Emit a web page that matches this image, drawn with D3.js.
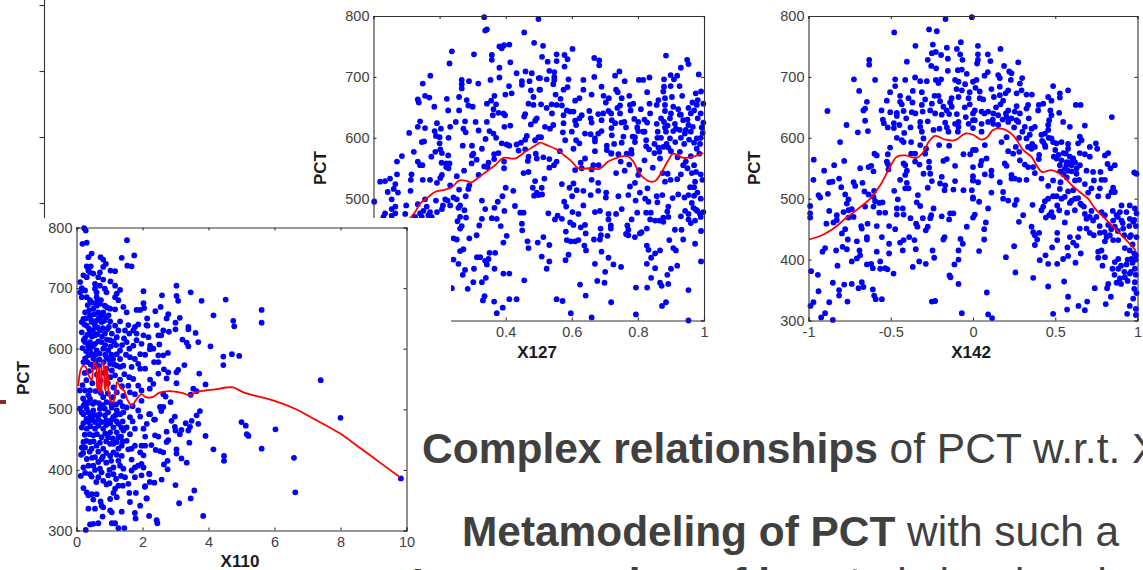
<!DOCTYPE html>
<html lang="en">
<head>
  <meta charset="UTF-8">
  <title>PCT scatter panels</title>
  <script src="https://d3js.org/d3.v7.min.js"></script>
  <style>
    html, body { margin: 0; padding: 0; background: #fff; overflow: hidden; }
    svg { display: block; }
    text { font-family: "Liberation Sans", Arial, sans-serif; }
    .tick text { fill: #404040; font-size: 14.5px; }
    .axis-title { fill: #1a1a1a; font-size: 17px; font-weight: bold; }
    .slide-text { fill: #404040; }
  </style>
</head>
<body>
  <div id="chart"></div>
  <script type="text/javascript">

  var pctTicks = [300, 400, 500, 600, 700, 800];
  var x110Ticks = [0, 2, 4, 6, 8, 10];
  var x127Ticks = [0, 0.2, 0.4, 0.6, 0.8, 1];
  var x142Ticks = [-1, -0.5, 0, 0.5, 1];
  var strayTicks = [0, 1, 2, 3];

  // [X110, PCT]
  var pointsX110 = [
    [3.03,704],[3.46,693],[2.59,688],[3.03,687],[3.08,679],[3.79,679],[4.52,681],[2.55,669],[2.39,662],[5.61,664],[5.61,643],[4.15,655],
    [2.78,657],[2.73,650],[3.13,651],[4.75,646],[4.78,637],[3.0,643],[3.39,636],[3.39,632],[2.43,639],[2.12,639],[2.63,630],[2.57,622],
    [2.48,622],[3.0,632],[2.8,628],[3.61,626],[3.21,615],[3.34,610],[3.39,604],[3.69,611],[4.06,604],[2.51,607],[2.33,600],[2.22,599],
    [2.77,593],[2.63,589],[2.48,589],[4.71,591],[4.93,588],[4.45,587],[4.45,573],[3.27,573],[2.35,578],[2.48,578],[2.65,566],[2.78,561],
    [3.03,561],[3.08,565],[3.72,559],[2.48,559],[2.73,551],[7.4,548],[3.03,543],[2.33,542],[2.22,534],[3.91,541],[3.54,534],[3.64,530],
    [3.46,524],[2.63,525],[2.7,521],[2.85,512],[2.53,504],[2.63,504],[2.57,497],[3.74,497],[3.64,490],[3.49,481],[8.0,486],[2.2,492],
    [2.98,488],[2.88,481],[2.35,483],[3.31,477],[3.69,476],[3.44,471],[3.39,465],[5.0,479],[5.13,473],[2.98,471],[3.0,465],[3.13,459],
    [3.18,466],[6.03,467],[2.73,463],[2.38,457],[2.48,455],[3.91,456],[5.16,459],[5.21,456],[2.78,449],[2.73,446],[3.42,445],[2.27,441],
    [5.61,435],[4.15,434],[2.4,433],[2.53,431],[2.63,429],[3.03,434],[3.03,427],[4.47,423],[4.47,415],[6.59,420],[3.18,419],[3.34,412],
    [2.76,415],[2.65,409],[2.76,401],[9.83,386],[2.2,394],[2.58,384],[2.22,380],[2.36,379],[3.0,375],[3.57,366],[2.07,372],[3.46,353],
    [2.12,353],[6.63,363],[3.11,345],[3.84,324],[2.2,324],[2.43,317],[2.45,312],
    [0.23,799],[0.28,795],[0.18,773],[0.31,775],[1.53,779],[0.46,757],[0.36,751],[1.37,750],[1.75,754],[0.73,751],[0.81,747],[0.89,740],
    [1.54,737],[1.67,736],[0.31,736],[0.43,736],[0.81,735],[0.36,729],[0.51,724],[0.41,726],[0.71,726],[1.03,729],[1.17,728],[0.21,721],
    [0.31,718],[0.66,718],[0.11,710],[0.81,714],[1.03,711],[0.56,707],[0.71,704],[1.17,704],[0.16,700],[0.26,696],[0.11,693],[0.56,699],
    [0.61,693],[0.86,699],[0.91,693],[1.32,697],[1.22,691],[0.16,685],[0.31,685],[0.41,680],[0.61,685],[1.17,685],[1.27,680],[2.03,695],
    [2.03,675],[2.05,667],[1.93,664],[1.82,664],[1.42,669],[1.52,660],[0.71,674],[0.86,671],[0.61,671],[0.51,666],[1.02,666],[1.17,665],
    [0.26,660],[0.41,655],[0.21,649],[0.66,660],[0.81,660],[0.91,652],[0.71,652],[1.57,639],[2.14,650],[0.16,644],[0.31,638],[0.46,644],
    [0.56,638],[0.76,644],[1.02,645],[1.17,638],[1.32,645],[1.87,640],[2.15,638],[1.77,636],[1.72,630],[1.82,625],[1.47,630],[1.27,630],
    [0.16,627],[0.26,618],[0.41,627],[0.56,622],[0.71,630],[0.86,625],[1.07,625],[1.22,619],[1.02,614],[2.18,619],[2.03,622],[1.52,611],
    [1.82,614],[1.72,605],[1.97,608],[0.26,611],[0.41,611],[0.56,608],[0.76,611],[0.18,601],[0.41,600],[0.61,597],[0.81,600],[0.96,597],
    [1.32,597],[1.22,591],[2.23,605],[1.62,586],[1.77,583],[1.93,591],[2.08,590],[0.36,589],[0.51,584],[0.26,584],[0.91,586],[1.11,583],
    [1.32,583],[1.87,575],[1.93,567],[1.67,570],[1.02,575],[1.22,572],[1.42,572],[2.08,567],[0.21,578],[0.91,567],[1.07,564],
    [0.1,531],[1.32,549],[1.72,550],[2.23,549],[1.57,539],[1.87,539],[1.97,531],[0.26,531],[0.41,531],[1.12,536],[1.22,528],[1.77,525],
    [1.97,514],[0.41,517],[0.26,512],[0.56,512],[0.81,520],[0.91,512],[1.32,512],[1.52,503],[0.1,501],[0.21,506],[0.31,501],[1.87,498],
    [2.23,492],[0.51,498],[0.71,501],[0.86,501],[1.07,503],[1.22,498],[1.62,487],[1.93,488],[2.38,483],[0.21,492],[0.41,487],[0.61,490],
    [0.86,490],[1.11,487],[1.32,492],[0.21,477],[0.36,479],[0.56,479],[0.76,479],[1.02,477],[1.27,476],[2.13,476],[2.03,468],[1.77,468],
    [1.52,470],[1.42,465],[0.31,468],[0.56,468],[0.81,468],[1.02,462],[1.22,462],[1.62,459],[2.08,455],[0.51,457],[0.76,454],[0.96,454],
    [1.27,454],[1.52,448],[0.21,446],[0.16,437],[0.41,446],[0.61,440],[1.02,443],[1.22,446],[1.77,440],[1.97,440],[2.08,440],[0.81,435],
    [0.46,435],[0.26,437],[1.37,440],[1.27,435],[1.57,434],[1.12,429],[1.67,435],[0.14,425],[0.56,421],[0.31,418],[1.37,423],[2.03,424],
    [1.93,429],[0.76,418],[0.66,413],[1.67,417],[0.21,404],[0.36,407],[0.51,407],[1.27,415],[1.12,404],[1.97,410],[1.87,407],[2.03,404],
    [0.71,402],[0.76,396],[1.32,407],[1.42,402],[1.77,404],[1.67,399],[0.41,393],[0.46,389],[0.13,390],[0.96,391],[1.12,393],[1.97,391],
    [2.21,393],[1.77,388],[0.66,388],[0.81,382],[0.91,376],[1.47,388],[1.57,377],[2.08,373],[0.21,370],[0.31,363],[0.36,358],[1.27,374],
    [1.17,369],[1.12,362],[0.46,360],[0.61,360],[1.6,362],[1.8,362],[2.13,353],[1.02,352],[1.22,355],[0.51,351],[0.73,348],[1.62,347],
    [0.81,338],[0.76,341],[0.36,336],[0.56,336],[1.02,333],[1.07,330],[1.37,331],[1.93,341],[1.77,329],[1.79,320],[0.79,323],[0.66,312],
    [0.51,311],[0.41,310],[1.07,312],[1.17,312],[1.27,304],[1.45,304],[0.28,301],
    // the solid blob at low X110
    [.34,672],[.47,676],[.63,678],[.74,680],[.93,668],[.38,663],[.54,657],[.67,650],[.79,655],[.97,655],[.28,650],[.44,648],
    [.6,646],[.84,646],[.98,636],[.24,640],[.38,633],[.5,630],[.64,635],[.8,634],[.93,632],[.33,623],[.47,620],[.62,624],
    [.77,620],[.92,615],[1.13,612],[.22,614],[.35,605],[.5,604],[.66,612],[.87,606],[1.04,604],[1.2,606],[.29,596],[.45,592],
    [.58,590],[.7,592],[.87,590],[1.06,590],[1.38,606],[.33,578],[.43,574],[.58,580],[.7,582],[.82,578],[1.14,574],[1.32,570],
    [.52,570],[.66,572],[.98,582],[1.5,590],[1.6,600],[1.44,617],[1.6,625],
    [.25,560],[.38,563],[.62,557],[.85,560],[1.02,553],[1.17,556],[1.45,558],[1.6,553],[.3,548],[.48,543],[.73,547],[.95,543],
    [1.38,538],[.18,540],[.36,523],[.58,530],[.74,527],[.95,526],[1.1,520],[1.42,522],[1.62,528],[.2,518],[.5,509],[.68,510],
    [.8,507],[1.04,510],[1.2,508],[1.4,505],[1.7,505],[.34,510],
    [.16,495],[.36,495],[.49,490],[.7,492],[.96,495],[1.18,490],[1.42,495],[.3,484],[.5,482],[.67,483],[.9,482],[1.05,482],
    [1.22,480],[1.4,480],[1.7,480],[.16,470],[.42,472],[.66,473],[.9,474],[1.12,470],[1.36,470],[.25,458],[.4,459],[.62,459],
    [.87,460],[1.1,452],[1.35,455],[.3,448],[.52,447],[.71,445],[.9,447],[1.12,443],[1.4,447],[.2,428],[.4,430],[.66,430],
    [.9,428],[1.02,423],[1.22,425],[.47,420],[.8,422],[1.05,415],[.9,412],
    [.26,395],[.56,400],[1,400],[1.2,385],[1.35,390],[.6,380],[1,378],[1.4,374]
  ];

  // [X127, PCT]
  var pointsX127 = [
    [.335,798],[.499,795],[.338,776],[.343,778],[.456,773],[.486,756],[.411,753],[.395,752],[.388,747],[.381,750],[.237,742],[.304,737],
    [.358,736],[.358,728],[.414,724],[.230,722],[.381,715],[.433,706],[.460,709],[.479,706],[.500,698],[.172,702],[.381,699],[.354,695],
    [.267,695],[.267,688],[.267,681],[.289,693],[.317,689],[.149,689],[.410,685],[.449,693],[.449,687],[.472,693],[.476,678],[.502,679],
    [.399,671],[.418,673],[.366,669],[.259,667],[.156,669],[.169,666],[.134,663],[.137,658],[.222,664],[.282,662],[.484,667],[.356,661],
    [.343,656],[.371,655],[.469,656],[.484,654],[.184,651],[.287,653],[.300,651],[.226,645],[.259,645],[.363,647],[.361,637],[.378,641],
    [.393,640],[.398,637],[.456,635],[.459,639],[.494,632],[.489,628],[.141,627],[.192,624],[.249,626],[.277,627],[.309,626],[.343,626],
    [.134,618],[.156,616],[.232,618],[.204,615],[.272,615],[.279,609],[.318,612],[.396,618],[.414,620],[.476,622],[.351,611],[.363,607],
    [.371,600],[.108,608],[.185,611],[.189,603],[.200,601],[.227,600],[.339,598],[.464,603],[.459,597],[.146,593],[.153,594],[.200,591],
    [.270,587],[.298,587],[.388,591],[.403,589],[.411,587],[.328,582],[.433,589],[.446,592],[.489,596],[.499,601],[.122,577],[.202,581],
    [.187,577],[.207,575],[.175,569],[.226,571],[.302,574],[.298,571],[.312,564],[.378,575],[.365,573],[.365,565],[.439,579],[.459,581],
    [.086,570],[.071,561],[.469,569],[.467,562],[.491,574],[.494,566],[.134,561],[.141,555],[.148,555],[.206,559],[.220,558],[.230,558],
    [.220,552],[.227,550],[.297,558],[.348,559],[.335,553],[.345,552],[.395,561],[.395,550],[.274,546],[.454,542],[.469,544],[.207,539],
    [.202,534],[.252,537],[.318,539],[.071,540],[.115,540],[.113,531],[.149,531],[.171,531],[.020,528],[.035,529],[.050,533],[.066,524],
    [.192,526],[.489,529],[.232,522],[.290,522],[.287,516],[.259,515],[.112,513],[.061,516],[.043,511],[.074,510],[.400,518],[.423,513],
    [.482,518],[.494,510],[.486,505],[.499,506],[.390,504],[.279,504],[.055,499],[.002,495],[.242,502],[.252,499],[.217,499],[.224,497],
    [.328,497],[.189,497],[.156,499],[.376,495],[.099,489],[.134,491],[.161,487],[.066,487],[.055,483],[.232,489],[.262,489],[.257,485],
    [.428,488],[.210,489],[.207,483],[.338,483],[.366,485],[.396,480],[.275,481],[.454,477],[.444,477],[.035,476],[.066,476],[.096,475],
    [.151,480],[.171,478],[.192,478],[.141,476],[.166,473],[.030,470],[.055,472],[.126,470],[.146,470],[.176,470],[.262,470],[.280,469],
    [.254,463],[.328,467],[.320,456],[.358,468],[.373,467],[.385,455],[.449,459],[.450,448],[.267,455],[.262,451],[.403,439],[.242,435],
    [.252,433],[.312,440],[.290,435],[.393,428],[.466,430],[.497,428],[.469,419],[.262,414],[.272,417],[.351,411],[.368,411],[.313,404],
    [.323,404],[.348,401],[.338,398],[.343,392],[.242,400],[.257,393],[.366,385],[.304,385],[.277,383],[.270,375],[.393,377],[.411,377],
    [.340,370],[.328,363],[.456,366],[.302,363],[.237,353],[.285,352],[.336,340],[.331,333],[.365,331],[.411,335],[.433,335],[.391,321],
    [.373,312],
    [.602,746],[.513,751],[.510,733],[.554,737],[.578,736],[.587,729],[.527,725],[.554,726],[.578,717],[.668,731],[.683,727],[.683,719],
    [.885,735],[.949,728],[.953,721],[.930,715],[.532,710],[.547,708],[.547,700],[.547,695],[.668,700],[.731,702],[.744,709],[.504,698],
    [.524,696],[.590,696],[.635,695],[.760,693],[.803,695],[.816,695],[.835,699],[.879,696],[.879,684],[.899,703],[.909,696],[.919,702],
    [.984,704],[.544,688],[.587,683],[.575,679],[.635,679],[.690,684],[.899,685],[.926,685],[.504,679],[.828,675],[.734,679],[.739,675],
    [.877,676],[.975,673],[.991,676],[.660,671],[.696,669],[.712,665],[.703,658],[.551,671],[.566,664],[.610,661],[.623,665],[.774,669],
    [.751,665],[.862,662],[.903,667],[.934,669],[.981,662],[.965,658],[.882,665],[.882,654],[.507,655],[.524,649],[.539,655],[.554,654],
    [.570,653],[.776,654],[.786,656],[.746,653],[.738,649],[.835,656],[.857,654],[.907,651],[.922,647],[.927,638],[.953,649],[.978,654],
    [.998,656],[.585,645],[.605,643],[.595,643],[.575,637],[.653,644],[.680,639],[.695,640],[.711,644],[.719,640],[.809,647],[.778,645],
    [.882,644],[.630,637],[.623,632],[.657,632],[.837,640],[.690,629],[.721,629],[.731,624],[.746,640],[.759,626],[.789,631],[.801,626],
    [.828,625],[.857,623],[.879,626],[.897,632],[.912,623],[.937,629],[.981,632],[.998,625],[.613,621],[.575,624],[.519,618],[.534,615],
    [.544,621],[.764,617],[.798,617],[.816,610],[.882,617],[.885,610],[.907,611],[.927,613],[.953,621],[.966,618],[.945,613],[.942,607],
    [.993,617],[.996,608],[.573,609],[.640,607],[.657,606],[.680,607],[.670,599],[.690,611],[.721,604],[.801,611],[.791,601],[.859,600],
    [.507,601],[.580,596],[.613,596],[.623,591],[.756,602],[.751,592],[.728,590],[.670,594],[.784,602],[.791,593],[.825,596],[.897,599],
    [.887,590],[.913,593],[.877,585],[.978,599],[.970,592],[.988,590],[.978,582],[.706,587],[.605,582],[.825,586],[.834,581],[.862,584],
    [.865,577],[.892,584],[.927,577],[.564,578],[.670,578],[.706,580],[.719,574],[.741,573],[.766,574],[.986,574],[.781,574],[.514,568],
    [.532,565],[.640,566],[.627,559],[.820,563],[.867,566],[.554,561],[.546,555],[.532,551],[.748,561],[.774,556],[.665,555],[.681,555],
    [.945,561],[.937,555],[.970,555],[.845,551],[.875,542],[.890,541],[.610,547],[.630,550],[.660,548],[.963,542],[.976,544],[.734,542],
    [.760,546],[.990,540],[.995,531],[.804,547],[.801,539],[.517,533],[.660,531],[.882,528],[.899,531],[.919,532],[.973,528],[.970,519],
    [.958,519],[.570,524],[.605,525],[.680,526],[.791,526],[.776,520],[.509,518],[.593,518],[.615,514],[.635,513],[.829,517],[.680,513],
    [.704,510],[.806,510],[.922,507],[.905,501],[.510,507],[.601,504],[.657,506],[.741,504],[.771,506],[.703,502],[.857,504],[.874,506],
    [.953,506],[.941,502],[.793,497],[.822,500],[.832,495],[.859,494],[.577,495],[.583,487],[.635,489],[.892,487],[.889,479],[.963,493],
    [.968,485],[.976,482],[.751,483],[.602,478],[.620,475],[.670,478],[.685,480],[.529,476],[.734,475],[.711,475],[.798,477],[.825,477],
    [.839,477],[.943,480],[.953,475],[.988,475],[.998,478],[.557,472],[.549,466],[.570,467],[.711,466],[.877,469],[.892,470],[.930,471],
    [.953,466],[.973,464],[.595,461],[.605,457],[.640,457],[.627,453],[.781,466],[.768,456],[.837,466],[.852,464],[.865,464],[.877,462],
    [.687,451],[.718,456],[.718,451],[.771,449],[.764,442],[.912,449],[.932,449],[.991,447],[.582,446],[.827,451],[.811,445],[.806,443],
    [.642,443],[.708,439],[.688,440],[.685,433],[.667,433],[.771,440],[.791,437],[.514,437],[.937,433],[.895,432],[.585,432],[.597,430],
    [.620,432],[.610,430],[.973,426],[.532,424],[.638,423],[.643,415],[.827,423],[.832,416],[.907,419],[.915,415],[.690,413],[.867,415],
    [.852,410],[.590,408],[.509,405],[.711,403],[.840,403],[.581,399],[.532,397],[.670,393],[.726,392],[.749,388],[.827,393],[.991,397],
    [.524,385],[.852,386],[.919,390],[.900,385],[.701,380],[.889,375],[.840,370],[.677,365],[.699,362],[.867,362],[.872,357],[.892,360],
    [.625,359],[.794,354],[.828,354],[.953,350],[.642,341],[.554,335],[.572,332],[.719,330],[.885,330],[.873,324],[.597,312],[.660,305],
    [.794,310],[.953,300],
    // denser right side
    [.9,640],[.93,638],[.95,630],[.96,640],[.97,645],[.99,640],[.87,632],[.89,620],[.915,615],[.93,600],[.94,590],[.955,597],
    [.86,610],[.85,590],[.87,600],[.9,578],[.92,568],[.96,570],[.99,600],[.96,610],[.82,630],[.82,610],[.72,616],[.75,625],
    [.66,625],[.61,628],[.54,640],[.6,610],[.78,580],[.85,575],[.98,510],[.99,500],[.97,505],[.93,540],[.95,550],[.98,480],
    [.99,470],[.96,460],[.72,575]
  ];

  // [X142, PCT]
  var pointsX142 = [
    [-.167,795],[-.007,798],[-.479,773],[-.267,778],[-.22,775],[-.35,751],[-.244,753],[-.159,748],[-.074,757],[-.098,746],[-.25,739],[-.226,741],
    [-.194,736],[-.275,728],[-.153,730],[-.078,737],[-.064,728],[-.631,728],[-.631,720],[-.402,725],[-.254,718],[-.224,714],[-.153,710],[-.092,711],
    [-.068,712],[-.038,705],[-.724,696],[-.595,695],[-.473,696],[-.412,695],[-.352,699],[-.321,693],[-.281,693],[-.226,695],[-.194,696],[-.21,690],
    [-.109,695],[-.088,692],[-.048,688],[0,692],[-.473,685],[-.692,677],[-.504,675],[-.366,677],[-.311,675],[-.234,669],[-.21,669],[-.443,669],
    [-.392,665],[-.368,658],[-.524,661],[-.645,659],[-.291,663],[-.311,654],[-.25,656],[-.443,659],[-.433,655],[-.088,667],[-.068,678],[-.027,665],
    [-.139,658],[-.129,651],[-.18,651],[-.656,648],[-.666,645],[-.885,644],[-.556,645],[-.503,642],[-.463,641],[-.422,644],[-.372,642],[-.306,643],
    [-.19,638],[-.145,639],[-.098,639],[-.044,634],[0,640],[-.548,630],[-.542,624],[-.656,628],[-.463,636],[-.406,632],[-.321,626],[-.275,627],
    [-.169,625],[-.109,623],[-.088,626],[-.027,623],[0,629],[-.769,621],[-.518,617],[-.481,624],[-.481,616],[-.447,621],[-.38,617],[-.321,618],
    [-.311,610],[-.24,613],[-.204,615],[-.159,617],[-.149,610],[-.088,618],[-.092,610],[-.7,609],[-.639,611],[-.418,608],[-.463,600],[-.433,596],
    [-.422,593],[-.301,599],[-.808,593],[-.376,593],[-.321,588],[-.206,588],[-.145,587],[-.504,584],[-.518,573],[-.599,574],[-.585,571],[-.285,582],
    [-.291,574],[-.058,573],[-.017,573],[-.376,574],[-.352,574],[0,580],[-.968,564],[-.783,562],[-.524,561],[-.518,557],[-.422,558],[-.412,555],
    [-.18,562],[-.159,565],[-.109,554],[-.352,561],[-.325,556],[-.267,561],[-.267,551],[-.844,555],[-.686,550],[-.635,552],[-.619,554],[-.605,545],
    [-.905,546],[-.514,548],[-.402,546],[-.412,539],[-.301,541],[-.26,541],[-.814,533],[-.443,531],[-.97,531],[-.25,529],[-.19,536],[-.2,525],
    [-.169,522],[-.109,529],[0,537],[0,530],[-.874,527],[-.854,528],[-.726,527],[-.672,526],[-.801,519],[-.716,521],[-.402,526],[-.392,517],
    [-.412,517],[-.275,518],[-.173,514],[-.119,515],[-.058,514],[-.007,514],[-.479,513],[-.601,513],[-.66,512],[-.939,506],[-.929,502],[-.882,508],
    [-.777,507],[-.757,499],[-.635,507],[-.605,503],[-.595,496],[-.335,506],[0,500],[-.457,499],[-.767,492],[-.55,494],[-.99,488],[-.342,494],
    [-.321,488],[-.656,487],[-.605,487],[-.57,493],[-.463,484],[-.427,484],[-.874,480],[-.57,477],[-.534,477],[-.463,474],[-.422,474],[-.99,476],
    [-.99,469],[-.828,473],[-.787,478],[-.757,481],[-.737,483],[-.24,484],[-.254,473],[-.26,468],[-.139,476],[-.119,476],[-.145,466],[-.19,471],
    [-.726,470],[-.757,469],[-.828,465],[-.848,461],[-.891,459],[-.38,468],[-.305,468],[-.346,459],[-.338,454],[-.275,454],[-.287,448],[-.68,455],
    [-.676,451],[-.641,459],[-.585,455],[-.51,455],[-.473,450],[-.038,454],[-.777,450],[-.797,443],[-.761,433],[-.706,430],[-.645,437],[-.645,433],
    [-.554,437],[-.388,437],[-.356,432],[-.422,432],[-.443,428],[-.173,437],[-.18,433],[-.076,434],[-.062,426],[-.51,426],[-.793,421],[-.767,417],
    [-.899,419],[-.915,413],[-.832,415],[-.69,415],[-.585,413],[-.427,415],[-.348,417],[-.51,410],[-.246,415],[-.088,415],[-.686,407],[-.706,402],
    [-.236,403],[-.737,397],[-.564,397],[-.327,397],[-.088,400],[-.287,393],[-.113,392],[-.645,392],[-.619,393],[-.609,386],[-.824,390],[-.366,388],
    [-.564,385],[-.534,386],[-.52,384],[-.984,381],[-.943,375],[-.483,377],[-.143,374],[-.137,371],[-.088,360],[-.852,362],[-.783,359],[-.737,360],
    [-.676,363],[-.696,353],[-.666,355],[-.609,351],[-.814,350],[-.939,348],[-.814,341],[-.601,341],[-.591,335],[-.554,335],[-.763,331],[-.874,330],
    [-.25,331],[-.23,332],[-.97,330],[-.988,324],[-.899,312],[-.923,305],[-.852,301],[-.068,312],
    [.03,751],[.167,746],[.03,737],[.09,737],[.025,722],[.03,728],[.106,726],[.189,718],[.275,724],[.22,709],[.234,706],[.09,708],
    [.07,702],[.153,703],[.163,698],[.299,698],[.021,695],[.23,695],[.285,689],[.487,685],[.578,678],[.112,680],[.163,684],[.214,678],
    [.015,682],[.041,676],[.295,678],[.325,671],[.358,671],[.265,673],[.528,673],[.528,666],[.127,667],[.163,670],[.198,673],[.041,665],
    [.062,663],[.457,667],[.477,661],[.183,661],[.167,655],[.427,656],[.4,654],[.396,645],[.335,654],[.325,648],[.625,654],[.654,654],
    [.265,652],[.011,645],[.052,643],[.092,643],[.123,640],[.153,637],[.214,645],[.254,643],[.285,640],[.204,634],[.234,632],[.265,629],
    [.47,645],[.477,637],[.524,641],[.844,634],[.339,632],[.463,629],[.548,626],[.457,621],[.011,629],[.052,623],[.092,626],[.123,623],
    [.153,621],[.214,626],[.275,626],[.315,618],[.376,618],[.356,615],[.589,618],[.68,620],[.457,613],[.437,607],[.416,605],[.052,610],
    [0,616],[.345,605],[.325,599],[.649,602],[.66,596],[.639,591],[.477,599],[.487,593],[.538,593],[.508,591],[.747,591],[.71,585],
    [.755,582],[.649,575],[.173,593],[.204,601],[.072,588],[.017,580],[.578,590],[.578,582],[.564,574],[.26,585],[.281,577],[.214,578],
    [.244,574],[.356,582],[.335,585],[.376,585],[.402,572],[.427,593],[.437,588],[.71,569],[.68,573],[.822,575],[.802,571],[.082,566],
    [.052,562],[.491,569],[.508,566],[.538,563],[.589,569],[.609,566],[.285,563],[.315,556],[.335,552],[.366,552],[.193,558],[.204,554],
    [.528,555],[.568,555],[.599,555],[.578,546],[.558,549],[.046,555],[0,552],[.818,557],[.862,555],[.836,550],[.69,546],[.775,544],
    [.73,544],[.112,546],[.072,540],[.112,538],[.376,542],[.416,533],[.234,539],[.254,533],[.281,531],[.234,533],[.163,527],[.325,531],
    [.98,543],[.994,541],[.629,541],[.645,531],[.031,527],[0,530],[.781,531],[.802,531],[.735,530],[.487,530],[.532,527],[.457,521],
    [.68,524],[.72,517],[.771,517],[.528,516],[.578,512],[.609,514],[.852,518],[.862,511],[.842,511],[.112,510],[.183,511],[.822,504],
    [.487,504],[.508,504],[.457,500],[.437,496],[.538,500],[.558,503],[.599,497],[.589,493],[.761,504],[.183,500],[.214,497],[0,502],
    [.037,495],[.265,498],[.254,490],[.639,501],[.653,492],[.674,487],[.362,490],[.427,487],[.416,481],[.512,489],[.524,481],[.092,484],
    [.903,489],[.953,489],[.984,484],[.994,476],[.619,481],[.572,477],[.305,473],[.477,478],[.463,473],[.487,470],[.443,469],[.011,474],
    [0,469],[.781,478],[.802,473],[.71,470],[.69,467],[.73,464],[.893,478],[.873,473],[.933,478],[.953,467],[.974,462],[.852,464],
    [.903,464],[.279,462],[.558,461],[.078,461],[.356,454],[.649,451],[.913,451],[.862,454],[.822,457],[.068,450],[.69,451],[.71,444],
    [.734,440],[.366,445],[.402,444],[.376,440],[.512,444],[.771,444],[.812,437],[.832,440],[.852,432],[.883,432],[.589,437],[.639,437],
    [.953,437],[.994,437],[.068,433],[.39,433],[.512,432],[.609,428],[.629,423],[.376,424],[.25,422],[.481,420],[.574,420],[.761,413],
    [.781,415],[.802,430],[.923,419],[.953,415],[.99,407],[.963,401],[.037,414],[.655,410],[.441,407],[.578,406],[.2,404],[.761,403],
    [.802,404],[.883,401],[.862,396],[.406,399],[.548,401],[.457,393],[.512,393],[.623,395],[.787,390],[.848,385],[.883,385],[.933,392],
    [.984,385],[.953,377],[.923,371],[.258,379],[.893,369],[.873,362],[.822,360],[.366,370],[.554,364],[.457,356],[.815,353],[.74,353],
    [.984,363],[.084,346],[.994,345],[.578,339],[.838,339],[.974,336],[.694,331],[.807,327],[.641,324],[.953,324],[.99,319],[.572,318],
    [.68,317],[.487,311],[.937,311],[.99,309],[.092,310],[.116,304],
    // dense clusters
    [.5,580],[.52,572],[.55,575],[.57,560],[.6,560],[.53,545],[.55,540],[.57,535],[.6,545],[.63,550],[.62,560],[.65,555],
    [.62,530],[.44,585],[.42,595],[.46,600],[.2,640],[.18,630],[.12,630],[.07,640],[.14,650],[.25,617],[.3,610],[.28,600],
    [.36,590],[.4,565],[.85,480],[.88,470],[.91,460],[.95,455],[.98,465],[.99,455],[.96,440],[.92,440],[.88,447],[.84,450],
    [.8,445],[.97,425],[.98,410],[.99,400],[.97,395],[.94,400],[.96,380],[.99,375],[.9,390],[.86,375],[.9,360],[.94,365],
    [.98,352],[.92,380],[.68,475],[.72,480],[.66,490],[.62,500],[.7,510],[.75,470],[.77,455],
    [-.2,660],[-.16,645],[-.13,665],[-.05,650],[-.02,655],[-.23,640],[-.35,640],[-.26,645],[-.1,680],[-.02,675]
  ];

  var curveX110 = [
    [.05,538],[.09,556],[.13,566],[.2,572],[.28,570],[.33,560],[.4,553],[.46,548],[.5,565],[.56,578],[.6,570],[.63,535],[.66,532],[.68,565],
    [.7,570],[.72,530],[.75,528],[.78,578],[.82,575],[.85,540],[.88,530],[.92,570],[.95,555],[.98,525],[1.06,512],[1.12,513],[1.18,525],[1.23,545],
    [1.35,535],[1.45,530],[1.55,515],[1.67,506],[1.8,515],[1.97,525],[2.1,520],[2.3,520],[2.5,527],[2.8,530],[3.2,527],[3.45,523],[3.6,528],[3.9,531],
    [4.2,533],[4.55,536],[4.75,536],[5.1,527],[5.6,520],[6,514],[6.62,501],[7.2,484],[7.99,460],[8.5,440],[9.2,412],[9.8,388]
  ];
  var curveX127 = [
    [.109,467],[.126,478],[.141,492],[.166,503],[.186,511],[.217,515],[.237,519],[.26,530],[.282,529],[.297,527],[.318,535],[.343,545],[.368,555],
    [.393,567],[.428,566],[.459,577],[.494,589],[.504,592],[.524,588],[.554,581],[.58,570],[.6,561],[.62,550],[.655,550],[.683,549],[.71,561],
    [.741,568],[.768,570],[.786,561],[.806,541],[.832,529],[.852,529],[.872,544],[.892,563],[.907,574],[.937,567],[.968,569],[.998,575]
  ];
  var curveX142 = [
    [-.996,433],[-.919,440],[-.848,451],[-.777,467],[-.696,484],[-.625,500],[-.564,522],[-.514,547],[-.463,569],[-.412,571],[-.342,567],[-.301,577],
    [-.27,593],[-.23,603],[-.169,597],[-.109,596],[-.048,607],[0,605],[.052,597],[.082,600],[.123,613],[.173,615],[.244,604],[.305,580],[.355,569],
    [.386,555],[.42,544],[.477,547],[.538,539],[.609,520],[.649,511],[.7,500],[.741,484],[.812,465],[.893,443],[.99,415]
  ];

  var w = 1143, h = 570;

  var svg = d3.select('#chart')
    .append('svg')
    .attr('width', w)
    .attr('height', h);

  function drawPanel(opts) {
    var x = d3.scaleLinear().domain(opts.xDomain).range([opts.left, opts.right]);
    var y = d3.scaleLinear().domain([300, 800]).range([opts.bottom, opts.top]);
    var g = svg.append('g');

    g.append('g').selectAll('circle')
      .data(opts.points)
      .enter().append('circle')
      .attr('cx', d => x(d[0]))
      .attr('cy', d => y(d[1]))
      .attr('r', 2.9)
      .attr('fill', '#0000ff');

    // curve on top of the points
    g.append('path')
      .datum(opts.curve)
      .attr('fill', 'none')
      .attr('stroke', '#ff0000')
      .attr('stroke-width', 1.8)
      .attr('d', d3.line().x(d => x(d[0])).y(d => y(d[1])).curve(d3.curveCatmullRom));

    // box with inside ticks, matlab style
    g.append('g')
      .attr('transform', 'translate(0,' + opts.bottom + ')')
      .call(d3.axisBottom(x).tickValues(opts.xTicks).tickFormat(d => d).tickSize(-3).tickPadding(6));
    g.append('g')
      .attr('transform', 'translate(' + opts.left + ',0)')
      .call(d3.axisLeft(y).tickValues(pctTicks).tickFormat(d => d).tickSize(-3).tickPadding(4));
    g.append('g')
      .attr('transform', 'translate(0,' + opts.top + ')')
      .call(d3.axisTop(x).tickValues(opts.xTicks).tickFormat('').tickSize(-3));
    g.append('g')
      .attr('transform', 'translate(' + opts.right + ',0)')
      .call(d3.axisRight(y).tickValues(pctTicks).tickFormat('').tickSize(-3));
    g.selectAll('.domain, .tick line').attr('stroke', '#333').attr('stroke-width', 1.1);

    g.append('text')
      .attr('class', 'axis-title')
      .attr('x', opts.xTitleX)
      .attr('y', opts.xTitleY)
      .attr('text-anchor', 'middle')
      .text(opts.xTitle);
    g.append('text')
      .attr('class', 'axis-title')
      .attr('transform', 'translate(' + opts.yTitleX + ',' + opts.yTitleY + ') rotate(-90)')
      .attr('text-anchor', 'middle')
      .text('PCT');
  }

  drawPanel({
    points: pointsX127, curve: curveX127, xDomain: [0, 1], xTicks: x127Ticks, xTitle: 'X127',
    left: 373.5, right: 704, top: 16, bottom: 320.5,
    xTitleX: 537, xTitleY: 358, yTitleX: 326, yTitleY: 168
  });
  drawPanel({
    points: pointsX142, curve: curveX142, xDomain: [-1, 1], xTicks: x142Ticks, xTitle: 'X142',
    left: 808.5, right: 1137.5, top: 16, bottom: 320.5,
    xTitleX: 971, xTitleY: 358, yTitleX: 760, yTitleY: 168
  });

  // stray axis left over at the top left of the slide
  var strayY = d3.scaleLinear().domain([0, 3]).range([5, 203]);
  svg.append('g')
    .attr('transform', 'translate(44.5,0)')
    .call(d3.axisLeft(strayY).tickValues(strayTicks).tickFormat('').tickSize(5))
    .call(a => a.select('.domain').attr('d', 'M0,0V218'))
    .call(a => a.selectAll('.domain, line').attr('stroke', '#333').attr('stroke-width', 1.1));

  // white sheet that hides the corner of the X127 plot
  svg.append('rect')
    .attr('x', 0).attr('y', 218)
    .attr('width', 451).attr('height', 352)
    .attr('fill', '#fff');

  // red bit of a slide decoration at the left edge
  svg.append('rect')
    .attr('x', 0).attr('y', 400)
    .attr('width', 6).attr('height', 4)
    .attr('fill', '#8a2a2a');

  drawPanel({
    points: pointsX110, curve: curveX110, xDomain: [0, 10], xTicks: x110Ticks, xTitle: 'X110',
    left: 76.5, right: 406.5, top: 227.5, bottom: 530.5,
    xTitleX: 240, xTitleY: 567, yTitleX: 29, yTitleY: 378
  });

  var line1 = svg.append('text').attr('class', 'slide-text').attr('x', 422).attr('y', 463).attr('font-size', 42.5);
  line1.append('tspan').attr('font-weight', 'bold').text('Complex relationships');
  line1.append('tspan').text(' of PCT w.r.t. X');

  var line2 = svg.append('text').attr('class', 'slide-text').attr('x', 462).attr('y', 546).attr('font-size', 42.4);
  line2.append('tspan').attr('font-weight', 'bold').text('Metamodeling of PCT');
  line2.append('tspan').text(' with such a');

  var line3 = svg.append('text').attr('class', 'slide-text').attr('x', 412).attr('y', 598).attr('font-size', 42.4);
  line3.append('tspan').attr('font-weight', 'bold').text('Large number of inputs');
  line3.append('tspan').text(' is hard to do');

    </script>
</body>
</html>
